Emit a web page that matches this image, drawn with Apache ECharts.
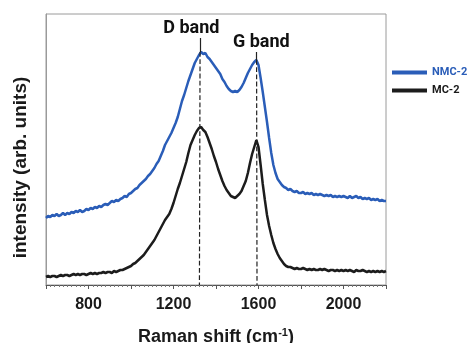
<!DOCTYPE html>
<html>
<head>
<meta charset="utf-8">
<script src="https://cdn.jsdelivr.net/npm/echarts@6/dist/echarts.min.js"></script>
<style>html,body{margin:0;padding:0;background:#fff;}#c{width:469px;height:343px;}</style>
</head>
<body>
<div id="c"></div>
<script>
// Raman shift sampling (cm-1): first value and spacing of the spectra below
var shiftStart = 600;
var shiftStep = 10;
// NMC-2 intensity (arb. units), one value per sample from 600 to 2200 cm-1
var nmc2 = [
  67,69,68,70,69,71,69,70,72,70,
  72,71,73,72,74,73,75,73,74,76,
  75,77,76,78,77,79,78,80,81,80,
  82,84,83,85,84,86,87,89,88,91,
  92,94,96,97,100,102,104,106,109,111,
  114,117,121,124,129,134,140,144,148,152,
  157,162,168,176,184,190,197,204,210,216,
  222,226,230,233,231,232,228,226,223,220,
  217,214,211,206,203,199,196,194,193,194,
  193,195,198,202,207,212,216,220,223,225,
  220,207,193,178,163,147,132,120,112,106,
  103,100,98,97,95,96,94,93,94,92,
  92,93,91,92,91,92,90,91,90,91,
  90,89,90,89,90,88,89,88,89,88,
  89,88,87,89,87,88,89,87,88,86,
  87,86,87,85,86,85,86,84,85,84,84];
// MC-2 intensity (arb. units), same sampling
var mc2 = [
  8,9,8,9,9,8,9,10,9,10,
  10,9,10,11,10,11,10,11,11,10,
  11,12,11,12,11,12,12,13,12,13,
  13,12,14,13,14,15,15,16,17,18,
  19,21,22,24,26,28,30,33,36,39,
  42,45,49,53,57,61,65,68,71,76,
  82,89,96,102,109,116,123,132,140,145,
  150,154,157,158,155,153,148,142,136,129,
  123,116,110,104,99,95,92,89,88,87,
  89,91,94,99,104,112,122,131,138,145,
  138,120,101,85,70,59,50,42,36,31,
  27,24,21,19,18,18,17,16,17,16,
  16,17,16,15,16,15,16,15,15,16,
  15,16,15,14,15,15,14,15,14,15,
  14,15,14,15,14,13,15,14,14,15,
  14,13,14,13,14,13,14,13,14,13,14];
var seriesNames = ['NMC-2','MC-2'];
var seriesColors = ['#2a5db8','#1c1c1c'];
var xTickLabels = [800,1200,1600,2000];
var dBand = {label:'D band', x:1325, peak:233, labelX:1284, labelY:257};
var gBand = {label:'G band', x:1591, peak:225, labelX:1613, labelY:243};

function pairs(ys){ return ys.map(function(y,i){ return [shiftStart + i*shiftStep, y]; }); }

var chart = echarts.init(document.getElementById('c'), null, {renderer:'canvas'});
var cond = 'Roboto, "Liberation Sans", sans-serif';
var arial = '"Liberation Sans", Arial, sans-serif';
chart.setOption({
  animation:false,
  backgroundColor:'#fff',
  grid:{left:46, right:83, top:14, bottom:58, containLabel:false, outerBoundsMode:'none',
        show:true, borderColor:'#9a9a9a', borderWidth:1},
  legend:{
    orient:'vertical', left:392, top:67, itemWidth:35, itemHeight:4, itemGap:7,
    icon:'rect', padding:0,
    data:[
      {name:'NMC-2', textStyle:{color:seriesColors[0]}},
      {name:'MC-2', textStyle:{color:'#1a1a1a'}}
    ],
    textStyle:{fontFamily:cond, fontWeight:'bold', fontSize:11}
  },
  xAxis:{
    type:'value', min:600, max:2200, interval:200,
    name:'{a|Raman shift (cm}{s|-1}{a|)}', nameLocation:'middle', nameGap:42,
    nameTextStyle:{rich:{
      a:{fontFamily:arial, fontWeight:'bold', fontSize:18, color:'#1a1a1a'},
      s:{fontFamily:arial, fontWeight:'bold', fontSize:11, color:'#1a1a1a', verticalAlign:'top', padding:[0,0,10,0]}
    }},
    axisLine:{lineStyle:{color:'#555', width:1}},
    axisTick:{show:true, length:4, lineStyle:{color:'#555'}},
    minorTick:{show:true, splitNumber:10, length:2, lineStyle:{color:'#777'}},
    splitLine:{show:false},
    axisLabel:{
      margin:12, fontFamily:arial, fontWeight:'bold', fontSize:16, color:'#1a1a1a',
      formatter:function(v){ return xTickLabels.indexOf(v) >= 0 ? String(v) : ''; }
    }
  },
  yAxis:{
    type:'value', min:0, max:271,
    name:'intensity (arb. units)', nameLocation:'middle', nameGap:16,
    nameTextStyle:{fontFamily:arial, fontWeight:'bold', fontSize:19, color:'#1a1a1a', padding:[0,36,0,0]},
    axisLine:{show:true, lineStyle:{color:'#9a9a9a'}},
    axisTick:{show:false}, axisLabel:{show:false}, splitLine:{show:false}
  },
  series:[
    {
      name:seriesNames[0], type:'line', data:pairs(nmc2), showSymbol:false, symbol:'none',
      lineStyle:{color:seriesColors[0], width:2.5}, itemStyle:{color:seriesColors[0]}, z:3,
      markLine:{
        silent:true, symbol:'none', label:{show:false}, animation:false,
        data:[
          [{coord:[dBand.x, dBand.peak], lineStyle:{type:'dashed', color:'#222', width:1.2}}, {coord:[dBand.x-3, 0]}],
          [{coord:[gBand.x, gBand.peak], lineStyle:{type:'dashed', color:'#222', width:1.2}}, {coord:[gBand.x+2, 0]}],
          [{coord:[dBand.x+3, dBand.peak], lineStyle:{type:'solid', color:'#222', width:1.2}}, {coord:[dBand.x+3, 247]}],
          [{coord:[gBand.x-1, gBand.peak], lineStyle:{type:'solid', color:'#222', width:1.2}}, {coord:[gBand.x-1, 233]}]
        ]
      },
      markPoint:{
        silent:true, symbol:'circle', symbolSize:0, animation:false,
        label:{show:true, position:'inside', fontFamily:cond, fontWeight:'bold', fontSize:18, color:'#111'},
        data:[
          {coord:[dBand.labelX, dBand.labelY], value:dBand.label, label:{formatter:dBand.label}},
          {coord:[gBand.labelX, gBand.labelY], value:gBand.label, label:{formatter:gBand.label}}
        ]
      }
    },
    {
      name:seriesNames[1], type:'line', data:pairs(mc2), showSymbol:false, symbol:'none',
      lineStyle:{color:seriesColors[1], width:2.5}, itemStyle:{color:seriesColors[1]}, z:3
    }
  ]
});
</script>
</body>
</html>
